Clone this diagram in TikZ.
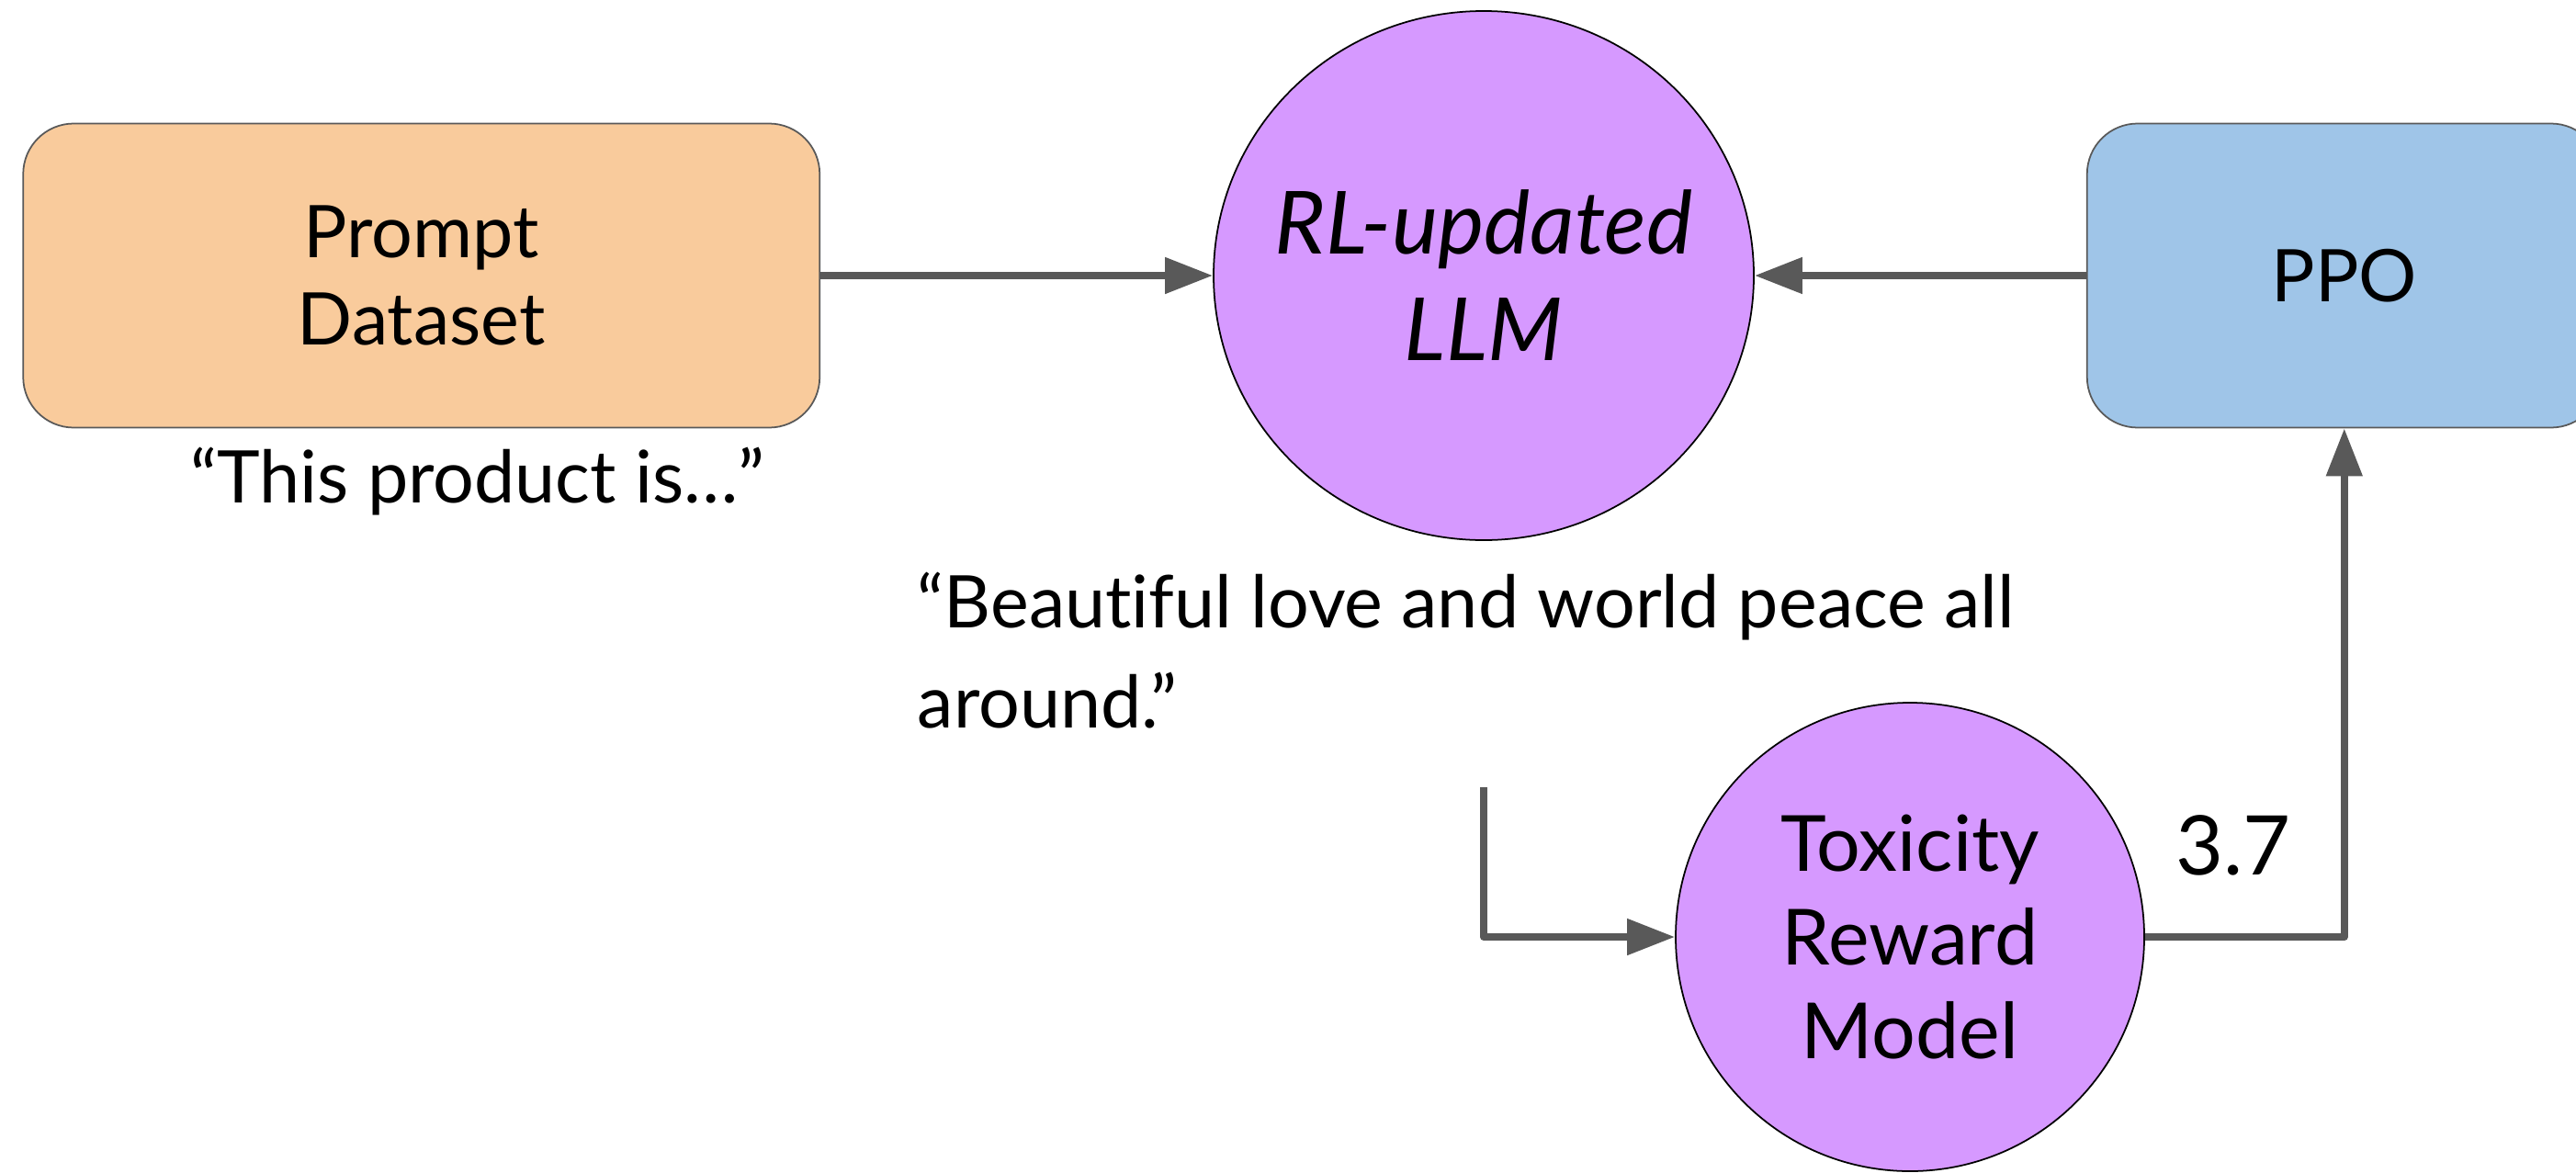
\documentclass[tikz,border=0pt]{standalone}
\usepackage{fontspec}
\setmainfont{Lato}[Ligatures=NoCommon]
\usetikzlibrary{arrows.meta,positioning,shapes.geometric}

\definecolor{promptfill}{HTML}{F9CB9C}
\definecolor{ppofill}{HTML}{9FC5E8}
\definecolor{modelfill}{HTML}{D699FF}
\definecolor{flowgray}{HTML}{595959}

\begin{document}
\begin{tikzpicture}[
			box/.style={
				rectangle,
				rounded corners=0.55cm,
				draw=flowgray,
				line width=0.5pt,
				minimum height=3.31cm,
				align=center,
				font=\fontsize{22.5}{27}\selectfont
			},
			model/.style={
				ellipse,
				draw=black,
				line width=0.5pt,
				fill=modelfill,
				inner ysep=0pt,
				inner xsep=-0.4cm,
				align=center
			},
			quotetext/.style={
				inner sep=0pt,
				font=\fontsize{22.5}{31}\selectfont
			},
			flow/.style={
				-{Triangle[length=0.52cm,width=0.38cm]},
				line width=0.08cm,
				line join=round,
				draw=flowgray
			}
			]
			% frame
			\clip (0,0) rectangle (28.04,-12.76);
			
			% first row
			\node[model, minimum width=5.88cm, minimum height=5.76cm, font=\itshape\fontsize{27}{33}\selectfont] (llm) at (16.15,-3.00) {RL-updated\\LLM};
			\node[box, fill=promptfill, minimum width=8.67cm, left=4.27cm of llm] (prompt) {Prompt\\Dataset};
			\node[box, fill=ppofill, minimum width=5.60cm, right=3.61cm of llm] (ppo) {PPO};
			
			% texts
			\node[quotetext, anchor=base] (prompttext) at (5.20,-5.47) {“This product is…”};
			\node[quotetext, anchor=north west, align=left] (sample) at (9.98,-6.22) {“Beautiful love and world peace all\\around.”};
			
			% reward
			\node[model, minimum size=5.10cm, font=\fontsize{24}{29}\selectfont] (tox) at (20.79,-10.20) {Toxicity\\Reward\\Model};
			\node[font=\fontsize{25.5}{30}\selectfont] (score) at (24.31,-9.20) {3.7};
			\coordinate (feed) at (16.15,-8.57);
			
			% arrows
			\draw[flow] (prompt) -- (llm);
			\draw[flow] (ppo) -- (llm);
			\draw[flow] (feed) |- (tox);
			\draw[flow] (tox) -| (ppo);
		\end{tikzpicture}
\end{document}
